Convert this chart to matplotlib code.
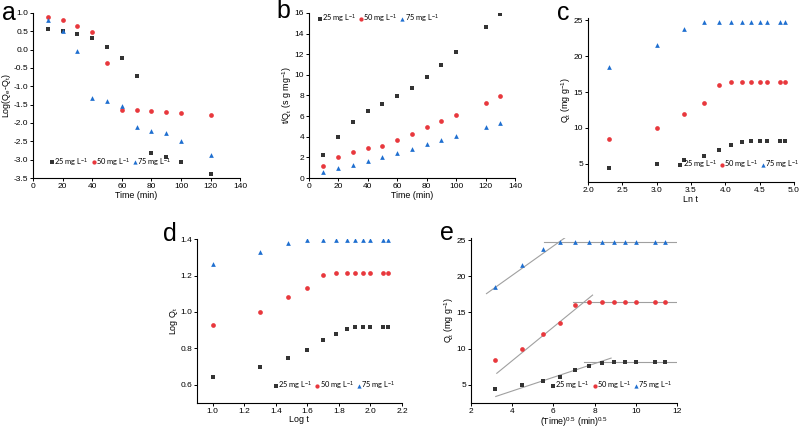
"""Kinetic model plots, five panels (a-e)"""

import matplotlib.pyplot as plt

plt.rcParams['font.family'] = ['Liberation Sans', 'DejaVu Sans']
plt.rcParams['mathtext.fontset'] = 'custom'
plt.rcParams['mathtext.rm'] = 'Liberation Sans'
plt.rcParams['mathtext.it'] = 'Liberation Sans'

labels = ['25 mg L$^{-1}$', '50 mg L$^{-1}$', '75 mg L$^{-1}$']

# panel a - pseudo first order
time_a = [10, 20, 30, 40, 50, 60, 70, 80, 90, 100, 120]
a_25 = [0.57, 0.50, 0.42, 0.31, 0.08, -0.24, -0.71, -2.83, -2.93, -3.05, -3.40]
a_50 = [0.90, 0.81, 0.65, 0.47, -0.36, -1.65, -1.65, -1.68, -1.71, -1.74, -1.78]
a_75 = [0.80, 0.50, -0.05, -1.32, -1.41, -1.55, -2.10, -2.23, -2.28, -2.48, -2.87]

# panel b - pseudo second order
time_b = [10, 20, 30, 40, 50, 60, 70, 80, 90, 100, 120, 130]
b_25 = [2.2, 3.95, 5.4, 6.5, 7.15, 7.9, 8.75, 9.75, 11.0, 12.2, 14.6, 15.85]
b_50 = [1.15, 2.0, 2.5, 2.95, 3.1, 3.65, 4.25, 4.9, 5.5, 6.1, 7.3, 7.9]
b_75 = [0.55, 0.95, 1.3, 1.65, 2.05, 2.45, 2.85, 3.25, 3.7, 4.1, 4.9, 5.3]

# panel c - Elovich (Qt vs ln t)
ln_t = [2.30, 3.00, 3.40, 3.69, 3.91, 4.09, 4.25, 4.38, 4.50, 4.60, 4.79, 4.87]
qt_25 = [4.4, 5.0, 5.6, 6.1, 7.0, 7.6, 8.0, 8.2, 8.2, 8.2, 8.2, 8.2]
qt_50 = [8.5, 10.0, 12.0, 13.5, 16.0, 16.4, 16.4, 16.4, 16.4, 16.4, 16.4, 16.4]
qt_75 = [18.5, 21.5, 23.8, 24.7, 24.7, 24.7, 24.7, 24.7, 24.7, 24.7, 24.7, 24.7]

# panel d - log Qt vs log t
log_t = [1.00, 1.30, 1.48, 1.60, 1.70, 1.78, 1.85, 1.90, 1.95, 2.00, 2.08, 2.11]
lq_25 = [0.645, 0.70, 0.745, 0.79, 0.845, 0.88, 0.905, 0.915, 0.915, 0.915, 0.915, 0.915]
lq_50 = [0.93, 1.00, 1.08, 1.13, 1.205, 1.215, 1.215, 1.215, 1.215, 1.215, 1.215, 1.215]
lq_75 = [1.265, 1.33, 1.38, 1.395, 1.395, 1.395, 1.395, 1.395, 1.395, 1.395, 1.395, 1.395]

# panel e - intraparticle diffusion
sqrt_t = [3.16, 4.47, 5.48, 6.32, 7.07, 7.75, 8.37, 8.94, 9.49, 10.0, 10.95, 11.40]
# fitted segments: (x0, x1), (y0, y1)
fit_25 = [((3.2, 8.8), (3.4, 8.7)), ((7.5, 12.0), (8.2, 8.2))]
fit_50 = [((3.25, 7.9), (6.6, 17.4)), ((6.95, 12.2), (16.4, 16.4))]
fit_75 = [((2.75, 6.8), (17.6, 25.8)), ((5.55, 12.1), (24.7, 24.7))]

c_black = '#333333'
c_red = '#e8383d'
c_blue = '#1f6fd0'
styles = [('s', c_black, 3.0), ('o', c_red, 3.4), ('^', c_blue, 3.4)]

TICK = 6.0
LAB = 6.4

fig = plt.figure(figsize=(8.06, 4.30), dpi=100)

def make_axes(rect):
	ax = fig.add_axes(rect)
	ax.spines['top'].set_visible(False)
	ax.spines['right'].set_visible(False)
	for s in ['left', 'bottom']:
		ax.spines[s].set_linewidth(0.8)
	ax.tick_params(labelsize=TICK, length=2.2, width=0.7, pad=1.2)
	return ax

def draw(ax, x, ys):
	for y, (m, c, ms), lab in zip(ys, styles, labels):
		ax.plot(x, y, linestyle='none', marker=m, color=c, markersize=ms,
			markeredgewidth=0, label=lab)

def add_legend(ax, loc, anchor):
	ax.legend(loc=loc, bbox_to_anchor=anchor, ncol=3, frameon=False,
		handletextpad=0.0, columnspacing=0.35, handlelength=0.6,
		borderaxespad=0.2, markerscale=0.9,
		prop={'family': ['Lato', 'DejaVu Sans'], 'size': 5.4})

# a
ax = make_axes([0.041, 0.586, 0.257, 0.384])
draw(ax, time_a, [a_25, a_50, a_75])
ax.set_xlim(0, 140)
ax.set_ylim(-3.5, 1.0)
ax.set_xticks(range(0, 141, 20))
ax.set_yticks([1.0, 0.5, 0.0, -0.5, -1.0, -1.5, -2.0, -2.5, -3.0, -3.5])
ax.yaxis.set_major_formatter(plt.FormatStrFormatter('%.1f'))
ax.set_xlabel('Time (min)', fontsize=LAB, labelpad=1)
ax.set_ylabel('Log(Q$_e$-Q$_t$)', fontsize=LAB, labelpad=0.5)
add_legend(ax, 'lower left', (0.06, 0.03))

# b
ax = make_axes([0.383, 0.586, 0.256, 0.384])
draw(ax, time_b, [b_25, b_50, b_75])
ax.set_xlim(0, 140)
ax.set_ylim(0, 16)
ax.set_xticks(range(0, 141, 20))
ax.set_yticks(range(0, 17, 2))
ax.set_xlabel('Time (min)', fontsize=LAB, labelpad=1)
ax.set_ylabel('t/Q$_t$ (s g mg$^{-1}$)', fontsize=LAB, labelpad=0.5)
add_legend(ax, 'upper left', (0.02, 1.03))

# c
ax = make_axes([0.7295, 0.577, 0.2556, 0.381])
draw(ax, ln_t, [qt_25, qt_50, qt_75])
ax.set_xlim(2.0, 5.0)
ax.set_ylim(2.5, 25.3)
ax.set_xticks([2.0, 2.5, 3.0, 3.5, 4.0, 4.5, 5.0])
ax.set_yticks([5, 10, 15, 20, 25])
ax.xaxis.set_major_formatter(plt.FormatStrFormatter('%.1f'))
ax.set_xlabel('Ln t', fontsize=LAB, labelpad=1)
ax.set_ylabel('Q$_t$ (mg g$^{-1}$)', fontsize=LAB, labelpad=0.5)
add_legend(ax, 'lower right', (1.05, 0.04))

# d
ax = make_axes([0.2444, 0.0628, 0.2543, 0.381])
draw(ax, log_t, [lq_25, lq_50, lq_75])
ax.set_xlim(0.9, 2.2)
ax.set_ylim(0.5, 1.4)
ax.set_xticks([1.0, 1.2, 1.4, 1.6, 1.8, 2.0, 2.2])
ax.set_yticks([0.6, 0.8, 1.0, 1.2, 1.4])
ax.xaxis.set_major_formatter(plt.FormatStrFormatter('%.1f'))
ax.yaxis.set_major_formatter(plt.FormatStrFormatter('%.1f'))
ax.set_xlabel('Log t', fontsize=LAB, labelpad=0.5)
ax.set_ylabel('Log Q$_t$', fontsize=LAB, labelpad=0.5)
add_legend(ax, 'lower right', (0.99, 0.04))

# e
ax = make_axes([0.5844, 0.0628, 0.2556, 0.384])
for segs in [fit_25, fit_50, fit_75]:
	for xs, ys in segs:
		ax.plot(xs, ys, color='#a0a0a0', linewidth=0.8)
draw(ax, sqrt_t, [qt_25, qt_50, qt_75])
ax.set_xlim(2, 12)
ax.set_ylim(2.5, 25.3)
ax.set_xticks(range(2, 13, 2))
ax.set_yticks([5, 10, 15, 20, 25])
ax.set_xlabel('(Time)$^{0.5}$ (min)$^{0.5}$', fontsize=LAB, labelpad=0.3)
ax.set_ylabel('Q$_t$ (mg g$^{-1}$)', fontsize=LAB, labelpad=0.5)
add_legend(ax, 'lower right', (1.0, 0.04))

# panel letters
for letter, x, y in [('a', 0.002, 0.953), ('b', 0.343, 0.958), ('c', 0.691, 0.953),
					 ('d', 0.202, 0.44), ('e', 0.546, 0.442)]:
	fig.text(x, y, letter, fontsize=18, va='baseline', ha='left')

plt.savefig('out.png', dpi=100)
